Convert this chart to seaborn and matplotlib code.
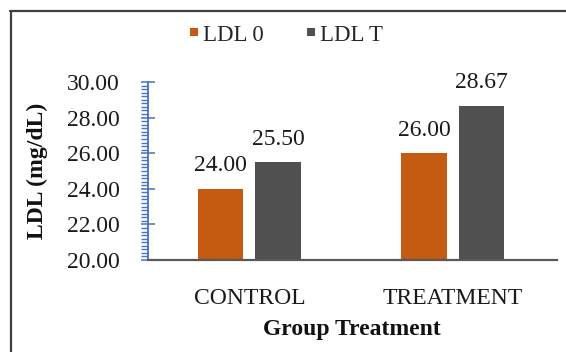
import matplotlib
matplotlib.use("Agg")
import matplotlib.pyplot as plt
from matplotlib.lines import Line2D
from matplotlib.ticker import MultipleLocator, FormatStrFormatter
import seaborn as sns
import pandas as pd

groups = ["CONTROL", "TREATMENT"]
series = ["LDL 0", "LDL T"]
ldl_0 = [24.00, 26.00]
ldl_t = [25.50, 28.67]
colors = ["#C55A11", "#505050"]

df = pd.DataFrame({
    "group": groups * 2,
    "series": [series[0]] * 2 + [series[1]] * 2,
    "value": ldl_0 + ldl_t,
})

sns.set_theme(style="white")
plt.rcParams["font.family"] = ["Liberation Serif", "DejaVu Serif"]

fig = plt.figure(figsize=(5.66, 3.52), dpi=100)
ax = fig.add_axes([147.7 / 566, 1 - 260 / 352, (556.7 - 147.7) / 566, (260 - 82) / 352])

sns.barplot(data=df, x="group", y="value", hue="series", palette=colors,
            width=0.566, gap=0.21, ax=ax, legend=False, linewidth=0, saturation=1)

ax.set_xlim(-0.5, 1.51)
ax.set_ylim(20, 30)
ax.yaxis.set_major_locator(MultipleLocator(2))
ax.yaxis.set_minor_locator(MultipleLocator(0.2))
ax.yaxis.set_major_formatter(FormatStrFormatter("%.2f"))

blue = "#4472C4"
for s in ["top", "right"]:
    ax.spines[s].set_visible(False)
ax.spines["left"].set_color(blue)
ax.spines["left"].set_linewidth(1.3)
ax.spines["bottom"].set_color("#595959")
ax.spines["bottom"].set_linewidth(1.6)

ax.tick_params(axis="y", which="major", direction="inout", length=10, width=1.1,
               color=blue, pad=15, labelsize=17, labelcolor="#1a1a1a", left=True)
ax.tick_params(axis="y", which="minor", direction="out", length=5, width=1.0,
               color=blue, left=True)
ax.tick_params(axis="x", length=0, pad=20, labelsize=17, labelcolor="#1a1a1a")

ax.set_xlabel("Group Treatment", fontsize=17, fontweight="bold", labelpad=7, color="#111111")
ax.set_ylabel("LDL (mg/dL)", fontsize=17, fontweight="bold", labelpad=14, color="#111111")

for cont in ax.containers:
    ax.bar_label(cont, fmt="%.2f", padding=9, fontsize=17, color="#1a1a1a")

handles = [Line2D([], [], marker="s", linestyle="none", markersize=5.5,
                  markerfacecolor=c, markeredgewidth=0) for c in colors]
fig.legend(handles, series, loc="center", bbox_to_anchor=(285.5 / 566, 1 - 35 / 352),
           ncol=2, frameon=False, fontsize=16.5, handlelength=0.5, handletextpad=0.15,
           columnspacing=1.8, borderpad=0)

frame_col = "#404040"
fig.add_artist(Line2D([11 / 566, 11 / 566], [0, 1 - 10.5 / 352], transform=fig.transFigure,
                      color=frame_col, linewidth=1.6))
fig.add_artist(Line2D([10 / 566, 1], [1 - 10.5 / 352, 1 - 10.5 / 352], transform=fig.transFigure,
                      color=frame_col, linewidth=1.6))

fig.savefig("out.png", dpi=100)
